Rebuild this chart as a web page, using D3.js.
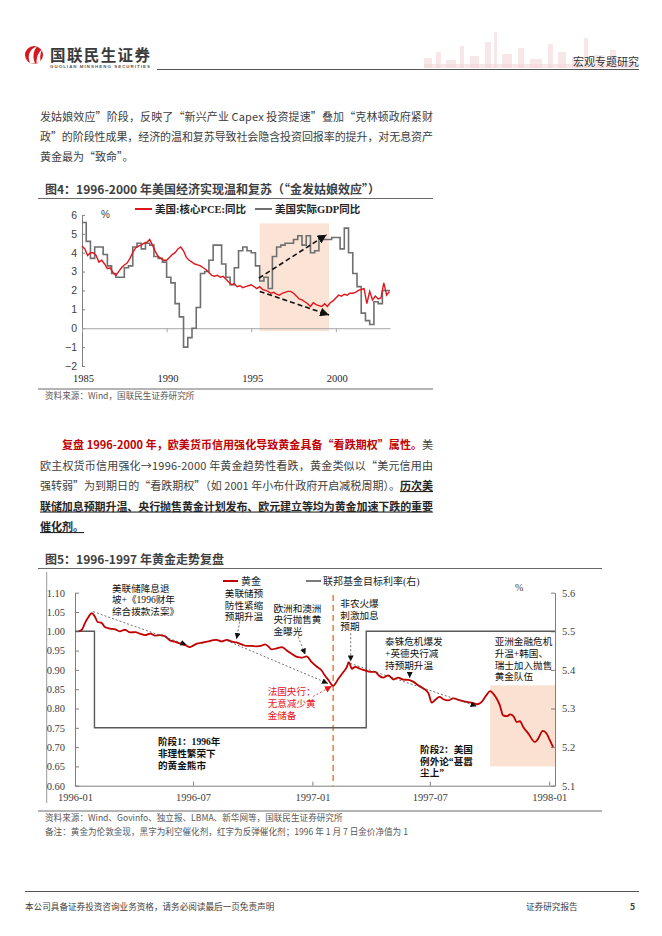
<!DOCTYPE html>
<html>
<head>
<meta charset="utf-8">
<script src="https://cdn.jsdelivr.net/npm/d3@7"></script>
<style>
  body { margin: 0; background: #fff; }
  svg { display: block; }
</style>
</head>
<body>
<div id="page"></div>
<script>
// ---------- chart 4 data (1985 - 2003) ----------
const pceStart = 1985;       // bimonthly readings, 6 per year
const pceCore = [
  4.35, 4.2, 3.85, 4.0, 4.0, 3.85,
  3.5, 3.6, 3.4, 3.15, 3.2, 2.95,
  2.8, 3.0, 3.2, 3.35, 3.45, 3.7,
  4.0, 4.25, 4.35, 4.4, 4.5, 4.55,
  4.7, 4.4, 4.05, 3.8, 3.7, 3.6,
  3.6, 3.75, 3.9, 4.0, 4.2, 4.3,
  4.1, 3.75, 3.6, 3.5, 3.4, 3.35,
  3.3, 3.2, 3.1, 2.95, 2.8, 2.75,
  2.8, 2.7, 2.75, 2.6, 2.45, 2.3,
  2.35, 2.2, 2.25, 2.15, 2.2, 2.25,
  2.3, 2.2, 2.1, 2.2, 2.05, 2.0,
  1.95, 1.85, 1.9, 1.8, 1.75, 1.85,
  1.9, 1.95, 1.95, 1.85, 1.7, 1.55,
  1.5, 1.4, 1.3, 1.15, 1.35, 1.25,
  1.2, 1.15, 1.3, 1.15, 1.35, 1.45,
  1.6, 1.75, 1.7, 1.8, 1.75, 1.85,
  1.85, 1.9, 2.0, 2.05, 2.1, 1.3,
  1.95, 1.5, 1.7, 1.55, 1.6, 2.4,
  1.75, 1.95
];
const gdpStart = 1985;       // quarterly
const gdpReal = [
  5.6, 4.6, 3.7, 4.3,
  4.3, 3.9, 3.3, 2.9,
  2.7, 2.7, 3.2, 3.3,
  4.3, 4.5, 4.2, 4.5,
  4.4, 3.8, 3.7, 3.5,
  2.7, 2.4, 1.3, 0.6,
  -1.0, -0.5, 0.0, 1.1,
  2.9, 3.0, 3.6, 4.4,
  4.4, 3.4, 2.7, 2.3,
  3.2, 4.1, 4.3, 4.1,
  4.0, 3.3, 2.5, 2.7,
  2.1, 3.8, 4.3, 4.4,
  4.5, 4.5, 4.7, 4.9,
  4.4, 4.9, 4.0, 4.1,
  4.9, 4.7, 4.7, 4.8,
  4.8, 4.2, 5.3, 4.0,
  2.9, 2.2, 0.8, 0.4,
  0.2, 1.4, 1.3, 2.0,
  2.0
];
const yTicks4 = [-2, -1, 0, 1, 2, 3, 4, 5, 6];
const xTicks4 = [1985, 1990, 1995, 2000];
const shade4 = { from: 1995.5, to: 1999.6, lo: -0.15, hi: 5.55 };
const trends4 = [
  { from: [1995.45, 2.65], to: [1999.45, 4.95] },
  { from: [1995.5, 1.95], to: [1999.6, 0.7] }
];

// ---------- chart 5 data (1996 - 1998), gold rebased to 1 on 1996-01-07 ----------
const gold = [
  ["1996-01-07",1.000],["1996-01-12",1.005],["1996-01-16",1.020],["1996-01-21",1.035],
  ["1996-01-27",1.047],["1996-02-01",1.037],["1996-02-05",1.024],["1996-02-11",1.022],
  ["1996-02-16",1.011],["1996-02-24",1.007],["1996-03-03",1.005],["1996-03-10",1.000],
  ["1996-03-18",1.004],["1996-03-26",0.997],["1996-04-03",0.998],["1996-04-10",0.994],
  ["1996-04-18",0.990],["1996-04-26",0.994],["1996-05-03",0.989],["1996-05-11",0.990],
  ["1996-05-19",0.987],["1996-05-26",0.977],["1996-06-03",0.973],["1996-06-11",0.968],
  ["1996-06-19",0.964],["1996-06-26",0.959],["1996-07-01",0.963],["1996-07-07",0.968],
  ["1996-07-16",0.971],["1996-07-25",0.974],["1996-08-01",0.977],["1996-08-06",0.978],
  ["1996-08-14",0.974],["1996-08-22",0.978],["1996-08-30",0.973],["1996-09-06",0.971],
  ["1996-09-14",0.966],["1996-09-22",0.962],["1996-09-29",0.962],["1996-10-07",0.961],
  ["1996-10-15",0.963],["1996-10-20",0.966],["1996-10-25",0.961],["1996-10-30",0.953],
  ["1996-11-07",0.956],["1996-11-15",0.959],["1996-11-22",0.951],["1996-11-30",0.942],
  ["1996-12-08",0.934],["1996-12-16",0.932],["1996-12-23",0.935],["1996-12-31",0.920],
  ["1997-01-08",0.908],["1997-01-15",0.899],["1997-01-20",0.886],["1997-01-26",0.873],
  ["1997-01-31",0.861],["1997-02-02",0.859],["1997-02-10",0.877],["1997-02-18",0.895],
  ["1997-02-23",0.907],["1997-02-26",0.920],["1997-03-03",0.903],["1997-03-08",0.908],
  ["1997-03-15",0.903],["1997-03-23",0.899],["1997-03-31",0.895],["1997-04-08",0.895],
  ["1997-04-13",0.886],["1997-04-20",0.880],["1997-04-28",0.886],["1997-05-06",0.875],
  ["1997-05-13",0.880],["1997-05-21",0.875],["1997-05-29",0.874],["1997-06-06",0.869],
  ["1997-06-13",0.860],["1997-06-21",0.852],["1997-06-29",0.839],["1997-07-04",0.815],
  ["1997-07-09",0.822],["1997-07-16",0.830],["1997-07-22",0.824],["1997-07-29",0.821],
  ["1997-08-06",0.826],["1997-08-17",0.821],["1997-08-27",0.817],["1997-09-06",0.814],
  ["1997-09-12",0.811],["1997-09-19",0.817],["1997-09-26",0.834],["1997-10-02",0.845],
  ["1997-10-07",0.838],["1997-10-12",0.826],["1997-10-17",0.808],["1997-10-22",0.782],
  ["1997-10-28",0.780],["1997-11-02",0.785],["1997-11-07",0.780],["1997-11-12",0.765],
  ["1997-11-17",0.767],["1997-11-22",0.752],["1997-11-30",0.735],["1997-12-10",0.713],
  ["1997-12-15",0.722],["1997-12-22",0.742],["1997-12-28",0.735],["1998-01-02",0.718],
  ["1998-01-07",0.700]
];
const fedRate = [
  ["1996-01-01",5.50],["1996-01-31",5.25],["1997-03-25",5.50],["1998-01-10",5.50]
];
const leftTicks5 = [0.60, 0.65, 0.70, 0.75, 0.80, 0.85, 0.90, 0.95, 1.00, 1.05, 1.10];
const rightTicks5 = [5.1, 5.2, 5.3, 5.4, 5.5, 5.6];
const xTicks5 = ["1996-01", "1996-07", "1997-01", "1997-07", "1998-01"];
const shade5 = { from: "1997-10-02", to: "1998-01-10", lo: 0.65, hi: 0.86 };
const marker5 = { date: "1997-02-02", lo: 0.60, hi: 1.094 };
const notes5 = [
  { d: "1996-02-27", v: 1.112, lines: ["美联储降息退", "坡+《1996财年", "综合拨款法案》"] },
  { d: "1996-08-19", v: 1.098, lines: ["美联储预", "防性紧缩", "预期升温"] },
  { d: "1996-11-02", v: 1.060, lines: ["欧洲和澳洲", "央行抛售黄", "金曝光"] },
  { d: "1996-10-24", v: 0.843, lines: ["法国央行：", "无意减少黄", "金储备"], red: true },
  { d: "1997-02-13", v: 1.072, lines: ["非农火爆", "刺激加息", "预期"] },
  { d: "1997-04-23", v: 0.973, lines: ["泰铢危机爆发", "+英德央行减", "持预期升温"] },
  { d: "1997-10-09", v: 0.973, lines: ["亚洲金融危机", "升温+韩国、", "瑞士加入抛售", "黄金队伍"] },
  { d: "1996-05-08", v: 0.714, lines: ["阶段1：1996年", "非理性繁荣下", "的黄金熊市"], bold: true },
  { d: "1997-06-16", v: 0.694, lines: ["阶段2：美国", "例外论“甚嚣", "尘上”"], bold: true }
];
const arrows5 = [
  { from: ["1996-01-29", 1.051], to: ["1996-06-21", 0.965] },
  { from: ["1996-08-22", 0.976], to: ["1997-01-25", 0.865] },
  { from: ["1997-02-28", 0.917], to: ["1997-09-11", 0.806] },
  { from: ["1996-09-11", 1.025], to: ["1996-09-06", 0.980] },
  { from: ["1996-12-10", 0.986], to: ["1996-12-21", 0.940] },
  { from: ["1997-03-01", 0.995], to: ["1997-03-01", 0.922] },
  { from: ["1997-05-31", 0.895], to: ["1997-05-31", 0.879] },
  { from: ["1997-01-02", 0.831], to: ["1997-01-31", 0.858], red: true }
];

// ---------- page ----------
const W = 662, H = 936;
const CN = "'Noto Sans CJK SC','Noto Sans',sans-serif";
const SERIF = "'Liberation Serif','Noto Sans CJK SC',serif";
const SANS = "'Liberation Sans','Noto Sans CJK SC',sans-serif";
const RED = "#c00000";
const TXT = "#404040";

const svg = d3.select("#page").append("svg").attr("width", W).attr("height", H);
svg.append("rect").attr("width", W).attr("height", H).attr("fill", "#fff");

const defs = svg.append("defs");
function arrowMarker(id, size, color) {
  defs.append("marker").attr("id", id)
    .attr("markerUnits", "userSpaceOnUse")
    .attr("markerWidth", size).attr("markerHeight", size)
    .attr("refX", size).attr("refY", size / 2)
    .attr("orient", "auto")
    .append("path").attr("d", `M0,0L${size},${size / 2}L0,${size}Z`).attr("fill", color);
}
arrowMarker("ahBig", 9, "#111");
arrowMarker("ahSmall", 6, "#111");
arrowMarker("ahRed", 7, "#e8141b");

// header
const head = svg.append("g");
// faint skyline
const sky = head.append("g").attr("fill", "#f3d4d6").attr("opacity", 0.55);
[[424, 8, 10], [436, 5, 16], [446, 10, 8], [460, 4, 22], [470, 9, 12], [485, 6, 26], [494, 3, 36],
 [502, 10, 14], [518, 6, 20], [530, 12, 9], [548, 5, 24], [558, 8, 16], [572, 6, 11], [584, 4, 30],
 [594, 10, 13], [610, 6, 18], [622, 12, 7]].forEach(b => {
  sky.append("rect").attr("x", b[0]).attr("y", 68 - b[2]).attr("width", b[1]).attr("height", b[2]);
});
head.append("rect").attr("x", 424).attr("y", 64).attr("width", 212).attr("height", 4)
  .attr("fill", "#f3d4d6").attr("opacity", 0.55);
// logo mark
head.append("circle").attr("cx", 34).attr("cy", 55).attr("r", 9).attr("fill", "#d7161d");
head.append("path").attr("d", "M30.5,63.5 C26.5,56.5 29.5,48.5 37,46.5 C33,51 32.5,57 35,63.5 Z").attr("fill", "#fff");
head.append("path").attr("d", "M36.5,63 C36.5,57.5 38,52.5 42,49.5 C40,54 39.8,58.5 40.8,62 Z").attr("fill", "#fff");
head.append("text").attr("x", 50).attr("y", 60.5).attr("font-family", CN).attr("font-weight", 700)
  .attr("font-size", 15.5).attr("fill", "#3a3a3a").attr("textLength", 100).text("国联民生证券");
head.append("text").attr("x", 50).attr("y", 67.5).attr("font-family", SANS).attr("font-weight", 700)
  .attr("font-size", 4.4).attr("fill", "#555").attr("textLength", 100).text("GUOLIAN MINSHENG SECURITIES");
head.append("line").attr("x1", 157).attr("x2", 639).attr("y1", 69.5).attr("y2", 69.5)
  .attr("stroke", "#555").attr("stroke-width", 1);
head.append("text").attr("x", 639).attr("y", 66).attr("text-anchor", "end").attr("font-family", CN)
  .attr("font-size", 11).attr("fill", "#333").text("宏观专题研究");

// paragraph helper: stretches a line between x0 and x1 like justified text
function paraLine(y, x0, x1, segs, stretch) {
  const t = svg.append("text").attr("x", x0).attr("y", y)
    .attr("font-family", CN).attr("font-size", 11).attr("fill", TXT);
  let n = 0;
  segs.forEach(s => {
    const sp = t.append("tspan").text(s.t);
    n += [...s.t].length;
    if (s.red) sp.attr("fill", RED).attr("font-weight", 700);
    if (s.bold) sp.attr("fill", "#262626").attr("font-weight", 700).style("text-decoration", "underline");
  });
  if (stretch) {
    const len = t.node().getComputedTextLength();
    t.attr("letter-spacing", (x1 - x0 - len) / (n - 1));
  }
}

paraLine(120.5, 40, 433, [{ t: "发姑娘效应”阶段，反映了“新兴产业 Capex 投资提速”叠加“克林顿政府紧财" }], true);
paraLine(140.5, 40, 433, [{ t: "政”的阶段性成果，经济的温和复苏导致社会隐含投资回报率的提升，对无息资产" }], true);
paraLine(160.5, 40, 433, [{ t: "黄金最为“致命”。" }], false);

paraLine(449, 62, 433, [{ t: "复盘 1996-2000 年，欧美货币信用强化导致黄金具备“看跌期权”属性。", red: true }, { t: "美" }], true);
paraLine(469.5, 40, 433, [{ t: "欧主权货币信用强化→1996-2000 年黄金趋势性看跌，黄金类似以“美元信用由" }], true);
paraLine(490, 40, 433, [{ t: "强转弱”为到期日的“看跌期权”（如 2001 年小布什政府开启减税周期）。" }, { t: "历次美", bold: true }], true);
paraLine(510.5, 40, 433, [{ t: "联储加息预期升温、央行抛售黄金计划发布、欧元建立等均为黄金加速下跌的重要", bold: true }], true);
paraLine(531, 40, 433, [{ t: "催化剂。", bold: true }], false);

// figure frame helper (title + rules + source)
function figureFrame(title, titleY, x1, srcY, sources) {
  svg.append("text").attr("x", 45).attr("y", titleY).attr("font-family", CN).attr("font-weight", 700)
    .attr("font-size", 12).attr("fill", TXT).text(title);
  svg.append("line").attr("x1", 38).attr("x2", x1).attr("y1", titleY + 4.5).attr("y2", titleY + 4.5)
    .attr("stroke", "#595959").attr("stroke-width", 0.9);
  svg.append("line").attr("x1", 38).attr("x2", x1).attr("y1", srcY - 10).attr("y2", srcY - 10)
    .attr("stroke", "#595959").attr("stroke-width", 0.9);
  sources.forEach((s, i) => {
    svg.append("text").attr("x", 45).attr("y", srcY + i * 13.5).attr("font-family", CN)
      .attr("font-size", 8.6).attr("fill", "#595959").text(s);
  });
}

// ===================== chart 4 =====================
figureFrame("图4：1996-2000 年美国经济实现温和复苏（“金发姑娘效应”）", 194, 433, 399,
  ["资料来源：Wind，国联民生证券研究所"]);

const x4 = d3.scaleLinear().domain([1985, 2003.2]).range([82, 390]);
const y4 = d3.scaleLinear().domain([-2, 6]).range([366, 214.9]);
const c4 = svg.append("g");

c4.append("rect")
  .attr("x", x4(shade4.from)).attr("width", x4(shade4.to) - x4(shade4.from))
  .attr("y", y4(shade4.hi)).attr("height", y4(shade4.lo) - y4(shade4.hi))
  .attr("fill", "#fbe3d6");

const yAx4 = c4.append("g").attr("transform", `translate(${x4(1985)},0)`)
  .call(d3.axisLeft(y4).tickValues(yTicks4).tickSize(-3).tickSizeOuter(0).tickPadding(5));
yAx4.select(".domain").attr("stroke", "#7f7f7f");
yAx4.selectAll("line").attr("stroke", "#7f7f7f");
yAx4.selectAll("text").attr("font-family", SANS).attr("font-size", 10.5).attr("fill", TXT);

const xAx4 = c4.append("g").attr("transform", `translate(0,${y4(0)})`)
  .call(d3.axisBottom(x4).tickValues(xTicks4).tickSize(4).tickSizeOuter(0).tickFormat(""));
xAx4.select(".domain").attr("stroke", "#a6a6a6");
xAx4.selectAll("line").attr("stroke", "#a6a6a6");
c4.selectAll(".yr").data(xTicks4).enter().append("text")
  .attr("x", d => x4(d) + 1.5).attr("y", 382).attr("text-anchor", "middle")
  .attr("font-family", SERIF).attr("font-size", 10.5).attr("fill", "#262626").text(d => d);

const gdpPts = gdpReal.map((v, i) => [gdpStart + i / 4, v]);
gdpPts.push([2003.2, gdpReal[gdpReal.length - 1]]);
c4.append("path").datum(gdpPts)
  .attr("d", d3.line().x(d => x4(d[0])).y(d => y4(d[1])).curve(d3.curveStepAfter))
  .attr("fill", "none").attr("stroke", "#6f6f6f").attr("stroke-width", 1.6);

const pcePts = pceCore.map((v, i) => [pceStart + i / 6, v]);
c4.append("path").datum(pcePts)
  .attr("d", d3.line().x(d => x4(d[0])).y(d => y4(d[1])))
  .attr("fill", "none").attr("stroke", "#e0161d").attr("stroke-width", 1.4);

trends4.forEach(a => {
  c4.append("line")
    .attr("x1", x4(a.from[0])).attr("y1", y4(a.from[1]))
    .attr("x2", x4(a.to[0])).attr("y2", y4(a.to[1]))
    .attr("stroke", "#111").attr("stroke-width", 1.6).attr("stroke-dasharray", "5,3")
    .attr("marker-end", "url(#ahBig)");
});

c4.append("text").attr("x", 101).attr("y", 218).attr("font-family", SANS).attr("font-size", 10)
  .attr("fill", TXT).text("%");
// legend
const leg4 = c4.append("g").attr("font-family", SERIF).attr("font-weight", 700).attr("font-size", 10.5).attr("fill", "#262626");
leg4.append("line").attr("x1", 135).attr("x2", 152).attr("y1", 209).attr("y2", 209).attr("stroke", "#e0161d").attr("stroke-width", 2);
leg4.append("text").attr("x", 155).attr("y", 213).text("美国:核心PCE:同比");
leg4.append("line").attr("x1", 255).attr("x2", 272).attr("y1", 209).attr("y2", 209).attr("stroke", "#6f6f6f").attr("stroke-width", 2);
leg4.append("text").attr("x", 275).attr("y", 213).text("美国实际GDP同比");

// ===================== chart 5 =====================
figureFrame("图5：1996-1997 年黄金走势复盘", 564, 602, 821,
  ["资料来源：Wind、Govinfo、独立报、LBMA、新华网等，国联民生证券研究所",
   "备注：黄金为伦敦金现，黑字为利空催化剂，红字为反弹催化剂；1996 年 1 月 7 日金价净值为 1"]);

const parse = d3.timeParse("%Y-%m-%d");
const parseM = d3.timeParse("%Y-%m");
const x5 = d3.scaleTime().domain([parse("1996-01-01"), parse("1998-01-10")]).range([75, 555]);
const y5 = d3.scaleLinear().domain([0.6, 1.1]).range([785.7, 592.7]);
const y5r = d3.scaleLinear().domain([5.1, 5.6]).range([785.7, 592.7]);
const c5 = svg.append("g");

c5.append("line").attr("x1", 46.7).attr("x2", 46.7).attr("y1", 572).attr("y2", 803)
  .attr("stroke", "#8c8c8c").attr("stroke-width", 0.9);

c5.append("rect")
  .attr("x", x5(parse(shade5.from))).attr("width", x5(parse(shade5.to)) - x5(parse(shade5.from)))
  .attr("y", y5(shade5.hi)).attr("height", y5(shade5.lo) - y5(shade5.hi))
  .attr("fill", "#fbe1d2");

function styleAxis(g) {
  g.select(".domain").attr("stroke", "#7f7f7f");
  g.selectAll("line").attr("stroke", "#7f7f7f");
  g.selectAll("text").attr("font-family", SERIF).attr("font-size", 10.5).attr("fill", TXT);
}
styleAxis(c5.append("g").attr("transform", "translate(75,0)")
  .call(d3.axisLeft(y5).tickValues(leftTicks5).tickFormat(d3.format(".2f")).tickSize(-4).tickSizeOuter(0).tickPadding(10)));
styleAxis(c5.append("g").attr("transform", "translate(555,0)")
  .call(d3.axisRight(y5r).tickValues(rightTicks5).tickFormat(d3.format(".1f")).tickSize(-4).tickSizeOuter(0).tickPadding(7)));
styleAxis(c5.append("g").attr("transform", "translate(0,785.7)")
  .call(d3.axisBottom(x5).tickValues(xTicks5.map(parseM)).tickFormat(d3.timeFormat("%Y-%m")).tickSize(-4).tickSizeOuter(0).tickPadding(8)));

// orange marker line
c5.append("line")
  .attr("x1", x5(parse(marker5.date))).attr("x2", x5(parse(marker5.date)))
  .attr("y1", y5(marker5.hi)).attr("y2", y5(marker5.lo))
  .attr("stroke", "#ed7d31").attr("stroke-width", 1.5).attr("stroke-dasharray", "6,4");

// fed funds target (right axis)
c5.append("path").datum(fedRate)
  .attr("d", d3.line().x(d => x5(parse(d[0]))).y(d => y5r(d[1])).curve(d3.curveStepAfter))
  .attr("fill", "none").attr("stroke", "#595959").attr("stroke-width", 1.4);

// gold
c5.append("path").datum(gold)
  .attr("d", d3.line().x(d => x5(parse(d[0]))).y(d => y5(d[1])).curve(d3.curveMonotoneX))
  .attr("fill", "none").attr("stroke", "#c00000").attr("stroke-width", 1.8);

// catalyst arrows
arrows5.forEach(a => {
  c5.append("line")
    .attr("x1", x5(parse(a.from[0]))).attr("y1", y5(a.from[1]))
    .attr("x2", x5(parse(a.to[0]))).attr("y2", y5(a.to[1]))
    .attr("stroke", a.red ? "#e8141b" : "#4d4d4d").attr("stroke-width", 0.8)
    .attr("stroke-dasharray", "2,2")
    .attr("marker-end", a.red ? "url(#ahRed)" : "url(#ahSmall)");
});

// notes
notes5.forEach(n => {
  const t = c5.append("text").attr("font-family", SERIF).attr("font-size", 9.6)
    .attr("font-weight", n.bold ? 700 : 400)
    .attr("fill", n.red ? "#e8141b" : "#111");
  n.lines.forEach((l, i) => {
    t.append("tspan").attr("x", x5(parse(n.d))).attr("y", y5(n.v) + 3.5 + i * 11.7).text(l);
  });
});

// legend + unit
const leg5 = c5.append("g").attr("font-family", SERIF).attr("font-size", 10).attr("fill", "#262626");
leg5.append("line").attr("x1", 223).attr("x2", 238).attr("y1", 581).attr("y2", 581).attr("stroke", "#c00000").attr("stroke-width", 2);
leg5.append("text").attr("x", 241).attr("y", 584.5).text("黄金");
leg5.append("line").attr("x1", 306).attr("x2", 321).attr("y1", 581).attr("y2", 581).attr("stroke", "#595959").attr("stroke-width", 1.6);
leg5.append("text").attr("x", 323).attr("y", 584.5).text("联邦基金目标利率(右)");
c5.append("text").attr("x", 515).attr("y", 591).attr("font-family", SERIF).attr("font-size", 10).attr("fill", TXT).text("%");

// footer
svg.append("line").attr("x1", 25).attr("x2", 639).attr("y1", 891.5).attr("y2", 891.5)
  .attr("stroke", "#555").attr("stroke-width", 1);
const foot = svg.append("g").attr("font-family", CN).attr("font-size", 8.6).attr("fill", "#404040");
foot.append("text").attr("x", 25).attr("y", 910).text("本公司具备证券投资咨询业务资格，请务必阅读最后一页免责声明");
foot.append("text").attr("x", 526).attr("y", 910).text("证券研究报告");
foot.append("text").attr("x", 630).attr("y", 910).attr("font-weight", 700).text("5");
</script>
</body>
</html>
